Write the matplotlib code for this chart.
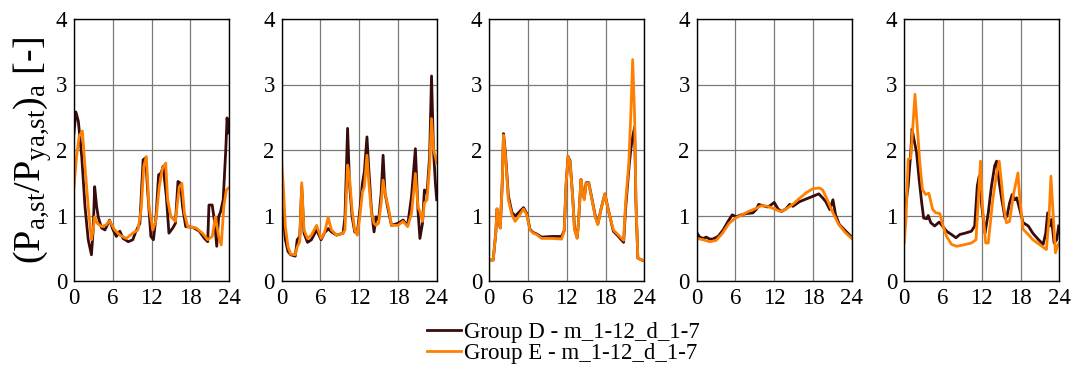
import matplotlib
matplotlib.use("Agg")
import matplotlib.pyplot as plt

plt.rcParams['font.family'] = ['Liberation Serif', 'DejaVu Serif']
plt.rcParams['mathtext.fontset'] = 'custom'
plt.rcParams['mathtext.rm'] = 'Liberation Serif'
plt.rcParams['mathtext.it'] = 'Liberation Serif:italic'

# colours of the two groups
col_d = '#3a0b0b'
col_e = '#ff8000'
label_d = 'Group D - m_1-12_d_1-7'
label_e = 'Group E - m_1-12_d_1-7'

# panel 1
t_d1 = [0, 0.3, 0.67, 1.2, 1.7, 2.2, 2.7, 2.97, 3.2, 3.5, 3.75, 4.26, 4.8, 5.5, 6.05, 6.56, 7.1, 7.6, 8.4, 9.1, 9.6, 10.2,
        10.7, 11.1, 11.4, 11.9, 12.3, 12.7, 13.1, 13.5, 13.8, 14.3, 14.7, 15.3, 15.7, 16.1, 16.5, 16.8, 17.3, 18.4, 19.4,
        20.2, 20.7, 20.9, 21.4, 21.8, 22.1, 22.4, 22.7, 23.1, 23.5, 23.7, 23.9]
d1 = [2.26, 2.58, 2.44, 1.9, 1.14, 0.63, 0.4, 0.78, 1.44, 1.14, 0.98, 0.81, 0.78, 0.93, 0.78, 0.68, 0.76, 0.65, 0.6, 0.63,
      0.76, 0.88, 1.85, 1.88, 1.39, 0.68, 0.63, 0.98, 1.62, 1.65, 1.75, 1.29, 0.73, 0.81, 0.88, 1.52, 1.49, 1.14, 0.83,
      0.82, 0.76, 0.65, 0.6, 1.16, 1.16, 0.88, 0.53, 0.98, 1.06, 1.24, 2.0, 2.49, 2.26]
t_e1 = [0, 0.4, 0.8, 1.3, 1.7, 2.2, 2.7, 2.97, 3.2, 3.6, 4.3, 5.0, 5.5, 6.3, 7.1, 8.1, 9.1, 9.9, 10.4, 10.8, 11.2, 11.6,
        12.2, 12.7, 13.2, 13.7, 14.2, 14.5, 15.0, 15.7, 16.3, 16.7, 17.1, 17.6, 18.9, 19.9, 20.7, 21.4, 21.9, 22.4,
        22.8, 23.2, 23.6, 23.9]
e1 = [1.44, 1.9, 2.21, 2.29, 1.75, 1.14, 0.63, 0.78, 0.98, 0.88, 0.83, 0.86, 0.92, 0.78, 0.7, 0.65, 0.73, 0.78, 1.09,
      1.75, 1.9, 1.14, 0.78, 0.93, 1.44, 1.72, 1.8, 1.24, 0.98, 0.91, 1.44, 1.49, 1.04, 0.83, 0.81, 0.73, 0.63, 0.68,
      0.98, 0.68, 0.55, 1.14, 1.39, 1.42]

# panel 2
t_d2 = [0, 0.26, 0.57, 0.98, 1.4, 2.1, 2.4, 2.8, 3.1, 3.45, 4.0, 4.6, 5.4, 6.1, 6.6, 7.2, 7.7, 8.5, 9.5, 9.8, 10.2, 10.5,
        10.9, 11.3, 11.7, 12.1, 12.5, 12.8, 13.2, 13.5, 13.9, 14.3, 14.6, 15.0, 15.4, 15.7, 16.0, 16.5, 17.0, 18.0,
        18.8, 19.5, 20.1, 20.7, 21.1, 21.4, 21.8, 22.1, 22.5, 22.9, 23.2, 23.5, 23.8, 24]
d2 = [1.21, 0.98, 0.63, 0.45, 0.4, 0.38, 0.63, 0.68, 1.44, 0.73, 0.59, 0.63, 0.78, 0.63, 0.73, 0.8, 0.75, 0.7, 0.73, 0.98,
      2.33, 1.49, 0.98, 0.75, 0.73, 1.08, 1.49, 1.67, 2.2, 1.69, 1.08, 0.75, 0.98, 0.93, 1.34, 1.92, 1.34, 1.08, 0.85,
      0.88, 0.93, 0.85, 1.29, 2.02, 1.08, 0.65, 0.88, 1.39, 1.34, 1.9, 3.13, 2.0, 1.49, 1.24]
t_e2 = t_d2
e2 = [1.79, 1.44, 0.83, 0.52, 0.41, 0.4, 0.52, 0.6, 1.5, 0.78, 0.65, 0.7, 0.85, 0.65, 0.73, 0.97, 0.78, 0.7, 0.73, 0.78,
      1.77, 1.59, 1.08, 0.78, 0.7, 0.98, 1.36, 1.44, 1.92, 1.49, 1.03, 0.88, 0.85, 0.88, 1.19, 1.54, 1.34, 1.13, 0.85,
      0.85, 0.91, 0.83, 1.03, 1.64, 1.13, 1.06, 0.91, 1.19, 1.24, 1.75, 2.48, 2.0, 1.9, 1.8]

# panel 3
t_e3 = [0, 0.6, 1.0, 1.2, 1.5, 1.7, 2.0, 2.2, 2.5, 2.95, 3.5, 4.0, 4.5, 5.3, 5.8, 6.3, 6.8, 7.3, 8.1, 9.7, 11.2, 11.6,
        11.9, 12.2, 12.5, 12.9, 13.2, 13.6, 13.8, 14.2, 14.4, 14.7, 15.0, 15.4, 15.8, 16.4, 16.8, 17.4, 17.9, 18.4,
        19.2, 19.9, 20.8, 21.1, 21.6, 21.9, 22.2, 22.5, 22.7, 23.0, 23.6, 24]
e3 = [0.32, 0.32, 0.73, 1.1, 0.93, 0.81, 1.49, 2.23, 1.9, 1.24, 1.01, 0.91, 0.98, 1.1, 1.01, 0.78, 0.73, 0.71, 0.65,
      0.65, 0.64, 0.76, 1.49, 1.9, 1.82, 1.29, 0.78, 0.65, 0.88, 1.55, 1.39, 1.24, 1.49, 1.49, 1.29, 0.98, 0.86, 1.14,
      1.33, 1.09, 0.78, 0.71, 0.62, 1.19, 1.8, 2.51, 3.38, 2.51, 1.24, 0.35, 0.32, 0.31]
t_d3 = t_e3
d3 = [0.32, 0.32, 0.73, 1.1, 0.93, 0.81, 1.49, 2.25, 1.95, 1.3, 1.05, 0.99, 1.04, 1.12, 1.03, 0.79, 0.74, 0.72, 0.67,
      0.68, 0.68, 0.77, 1.49, 1.9, 1.84, 1.3, 0.8, 0.66, 0.88, 1.55, 1.39, 1.26, 1.5, 1.5, 1.3, 1.0, 0.87, 1.14, 1.33,
      1.1, 0.76, 0.69, 0.59, 1.1, 1.7, 2.0, 2.2, 2.35, 1.2, 0.35, 0.32, 0.31]

# panel 4
t_d4 = [0, 0.46, 1.0, 1.5, 2.0, 2.5, 3.3, 4.1, 4.85, 5.5, 6.1, 6.9, 7.7, 8.7, 9.2, 9.6, 10.2, 11.0, 11.5, 12.0, 12.6,
        13.1, 13.8, 14.4, 14.9, 15.9, 16.9, 17.9, 18.9, 19.5, 20.0, 20.6, 21.1, 21.5, 22.1, 22.9, 24]
d4 = [0.74, 0.67, 0.65, 0.67, 0.64, 0.64, 0.68, 0.78, 0.91, 1.01, 0.98, 1.01, 1.03, 1.04, 1.09, 1.17, 1.15, 1.13, 1.16,
      1.2, 1.1, 1.06, 1.1, 1.17, 1.14, 1.21, 1.25, 1.29, 1.33, 1.27, 1.21, 1.09, 1.24, 1.01, 0.86, 0.78, 0.67]
t_e4 = [0, 1, 2, 3, 4, 5, 6, 7, 8, 9, 10, 11, 12, 13, 14, 15, 16, 17, 18, 19, 19.5, 20, 21, 22, 23, 24]
e4 = [0.65, 0.63, 0.6, 0.62, 0.73, 0.88, 0.96, 1.01, 1.06, 1.1, 1.15, 1.14, 1.1, 1.06, 1.11, 1.18, 1.27, 1.35, 1.41,
      1.42, 1.39, 1.29, 1.06, 0.86, 0.74, 0.65]

# panel 5
t_d5 = [0, 0.26, 0.6, 1.0, 1.2, 1.5, 1.9, 2.3, 2.7, 3.0, 3.5, 3.7, 4.1, 4.7, 5.4, 5.9, 6.55, 7.3, 8.0, 8.6, 9.4, 10.4,
        10.9, 11.3, 11.6, 12.0, 12.5, 13.0, 13.5, 14.0, 14.3, 14.7, 15.1, 15.6, 15.9, 16.3, 16.7, 17.1, 17.4, 17.8,
        18.4, 19.2, 19.9, 20.7, 21.5, 21.9, 22.2, 22.5, 22.8, 23.2, 23.6, 23.9]
d5 = [0.86, 1.19, 1.45, 1.96, 2.32, 2.16, 1.96, 1.55, 1.19, 0.96, 0.95, 1.0, 0.89, 0.84, 0.9, 0.84, 0.76, 0.71, 0.66,
      0.71, 0.73, 0.76, 0.84, 1.45, 1.6, 1.14, 0.73, 1.04, 1.45, 1.76, 1.83, 1.5, 1.24, 0.96, 0.99, 1.19, 1.32, 1.24,
      1.27, 1.12, 0.89, 0.84, 0.73, 0.64, 0.56, 0.73, 1.04, 0.84, 0.94, 0.58, 0.63, 0.84]
t_e5 = [0, 0.26, 0.6, 1.0, 1.3, 1.65, 2.0, 2.4, 2.8, 3.3, 3.8, 4.4, 4.9, 5.5, 6.0, 6.55, 7.3, 8.1, 9.1, 10.4, 11.1, 11.4,
        11.8, 12.1, 12.6, 13.0, 13.7, 14.3, 14.7, 15.1, 15.4, 15.8, 16.3, 16.9, 17.6, 17.9, 18.4, 19.2, 19.9, 20.9,
        22.0, 22.4, 22.7, 23.1, 23.4, 23.7, 24]
e5 = [0.59, 0.94, 1.86, 1.88, 2.32, 2.85, 2.37, 1.81, 1.4, 1.32, 1.34, 1.09, 1.04, 1.03, 0.84, 0.68, 0.56, 0.53, 0.55,
      0.58, 0.63, 1.14, 1.83, 1.14, 0.58, 0.58, 1.24, 1.65, 1.83, 1.45, 1.14, 0.89, 0.91, 1.32, 1.65, 1.24, 0.79, 0.71,
      0.63, 0.56, 0.48, 0.94, 1.6, 0.94, 0.43, 0.53, 0.58]

panels = [(t_d1, d1, t_e1, e1), (t_d2, d2, t_e2, e2), (t_d3, d3, t_e3, e3),
          (t_d4, d4, t_e4, e4), (t_d5, d5, t_e5, e5)]
x_ticks = [0, 6, 12, 18, 24]
y_ticks = [0, 1, 2, 3, 4]

fig = plt.figure(figsize=(10.71, 3.67), dpi=100)
lefts = [74, 281.7, 489.3, 696.7, 904.3]
axes = []
for i, (td, d, te, e) in enumerate(panels):
    ax = fig.add_axes([lefts[i] / 1071, 1 - 281 / 367, 155 / 1071, 262 / 367])
    ax.plot(td, d, color=col_d, lw=2.0, label=label_d)
    ax.plot(te, e, color=col_e, lw=2.0, label=label_e)
    ax.set_xlim(0, 24)
    ax.set_ylim(0, 4)
    ax.set_xticks(x_ticks)
    ax.set_yticks(y_ticks)
    ax.grid(True, color='#7a7a7a', lw=0.9)
    ax.set_axisbelow(True)
    ax.tick_params(length=0, labelsize=16.5)
    ax.tick_params(axis='x', pad=5)
    ax.tick_params(axis='y', pad=5)
    for s in ax.spines.values():
        s.set_linewidth(1.0)
    axes.append(ax)

axes[0].set_ylabel(r'$(\mathrm{P}_{\mathrm{a{,}st}}/\mathrm{P}_{\mathrm{ya{,}st}})_{\mathrm{a}}$ [-]', fontsize=27.5,
                   labelpad=1)

h, l = axes[0].get_legend_handles_labels()
fig.legend(h, l, loc='center', bbox_to_anchor=(0.526, 1 - 343 / 367), frameon=False, fontsize=16.5,
           handlelength=1.5, handletextpad=0.15, labelspacing=0.0, borderpad=0)

fig.savefig('out.png', dpi=100)
